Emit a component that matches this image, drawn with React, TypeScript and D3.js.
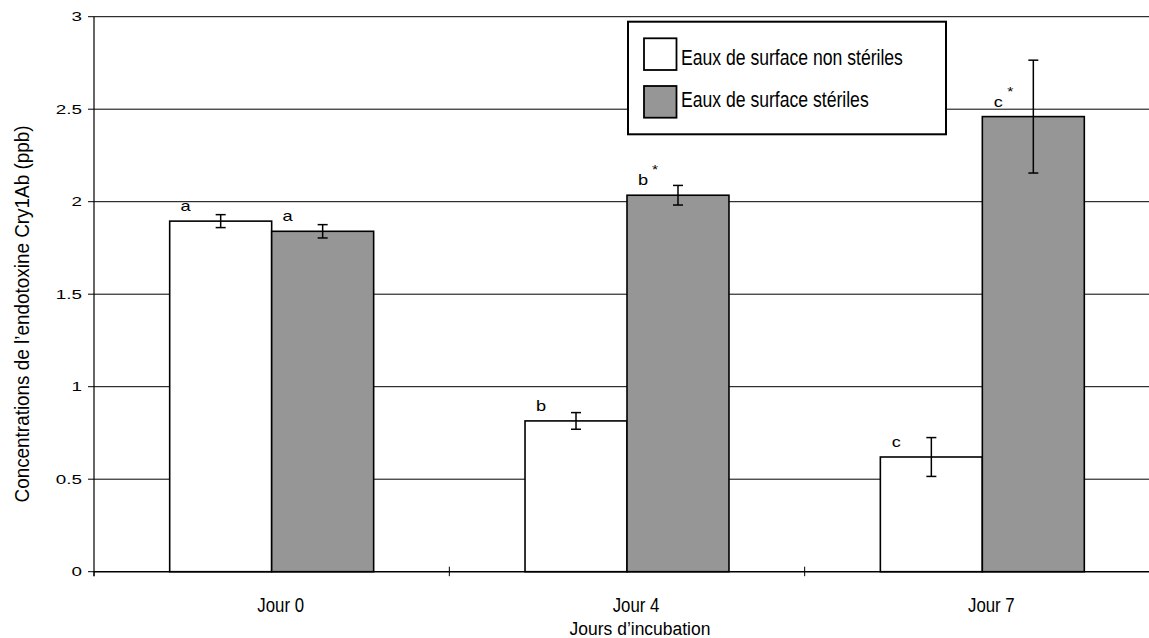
import React from "react";
import * as d3 from "d3";

// Cry1Ab endotoxin concentration in surface water, by incubation day
const categories = ["Jour 0", "Jour 4", "Jour 7"];
const seriesNames = ["Eaux de surface non stériles", "Eaux de surface stériles"];
const nonSterile = [1.895, 0.815, 0.62];
const nonSterileErr = [0.035, 0.045, 0.105];
const sterile = [1.84, 2.035, 2.46];
const sterileErr = [0.036, 0.053, 0.305];
const nonSterileLetters = ["a", "b", "c"];
const sterileLetters = ["a", "b", "c"];
const sterileStars = [false, true, true];
const yTicks = [0, 0.5, 1, 1.5, 2, 2.5, 3];
const yTickLabels = ["0", "0.5", "1", "1.5", "2", "2.5", "3"];
const xTitle = "Jours d’incubation";
const yTitle = "Concentrations de l’endotoxine Cry1Ab (ppb)";

const W = 1149;
const H = 638;
const FONT = "'Liberation Sans', Arial, Helvetica, sans-serif";
const GRAY = "#969696";

// text stretched horizontally by sx
function SText(props: {
  x: number;
  y: number;
  sx: number;
  size: number;
  anchor?: string;
  rotate?: number;
  children: React.ReactNode;
}) {
  const { x, y, sx, size, anchor = "start", rotate = 0, children } = props;
  return (
    <text
      transform={`translate(${x},${y}) rotate(${rotate}) scale(${sx},1)`}
      textAnchor={anchor}
      fontSize={size}
      fontFamily={FONT}
      fill="#000"
    >
      {children}
    </text>
  );
}

export default function App() {
  const left = 94;
  const right = 1160;
  const y = d3.scaleLinear().domain([0, 3]).range([571.7, 16.7]);
  const x = d3.scaleBand<string>().domain(categories).range([left, right]).padding(0);
  const groupW = x.bandwidth() * 0.574;
  const xs = d3.scaleBand<number>().domain([0, 1]).range([0, groupW]).padding(0);

  const series = [
    { values: nonSterile, errs: nonSterileErr, letters: nonSterileLetters, stars: [false, false, false], fill: "#fff" },
    { values: sterile, errs: sterileErr, letters: sterileLetters, stars: sterileStars, fill: GRAY },
  ];

  const barX = (ci: number, si: number) =>
    (x(categories[ci]) as number) + (x.bandwidth() - groupW) / 2 + (xs(si) as number);

  return (
    <svg
      width={W}
      height={H}
      style={{ position: "absolute", left: 0, top: 0, background: "#fff" }}
    >
      {/* gridlines */}
      {yTicks.slice(1).map((t) => (
        <line key={t} x1={left} x2={right} y1={y(t)} y2={y(t)} stroke="#000" strokeWidth={1} />
      ))}

      {/* bars */}
      {series.map((s, si) =>
        s.values.map((v, ci) => (
          <rect
            key={`${si}-${ci}`}
            x={barX(ci, si)}
            y={y(v)}
            width={xs.bandwidth()}
            height={y(0) - y(v)}
            fill={s.fill}
            stroke="#000"
            strokeWidth={1.6}
          />
        ))
      )}

      {/* error bars */}
      {series.map((s, si) =>
        s.values.map((v, ci) => {
          const cx = barX(ci, si) + xs.bandwidth() / 2;
          const y1 = y(v + s.errs[ci]);
          const y2 = y(v - s.errs[ci]);
          return (
            <g key={`e${si}-${ci}`} stroke="#000" strokeWidth={1.5}>
              <line x1={cx} x2={cx} y1={y1} y2={y2} />
              <line x1={cx - 5} x2={cx + 5} y1={y1} y2={y1} />
              <line x1={cx - 5} x2={cx + 5} y1={y2} y2={y2} />
            </g>
          );
        })
      )}

      {/* significance letters */}
      {series.map((s, si) =>
        s.values.map((v, ci) => {
          const cx = barX(ci, si) + xs.bandwidth() / 2 - 35;
          const by = y(v) - 10;
          return (
            <g key={`l${si}-${ci}`}>
              <SText x={cx} y={by} sx={1.3} size={14} anchor="middle">
                {s.letters[ci]}
              </SText>
              {s.stars[ci] && (
                <SText x={cx + 12} y={by - 11} sx={1.2} size={13} anchor="middle">
                  *
                </SText>
              )}
            </g>
          );
        })
      )}

      {/* axes */}
      <line x1={left} x2={left} y1={y(3)} y2={y(0) + 4.5} stroke="#000" strokeWidth={1.2} />
      <line x1={left} x2={right} y1={y(0)} y2={y(0)} stroke="#000" strokeWidth={1.4} />
      {yTicks.map((t, i) => (
        <g key={`t${t}`}>
          <line x1={left - 6} x2={left} y1={y(t)} y2={y(t)} stroke="#000" strokeWidth={1} />
          <SText x={82} y={y(t) + 4.6} sx={1.45} size={13} anchor="end">
            {yTickLabels[i]}
          </SText>
        </g>
      ))}
      {categories.map((c, i) => (
        <line
          key={`ct${c}`}
          x1={(x(c) as number) + (i === 0 ? 0 : 0)}
          x2={x(c) as number}
          y1={y(0) - (i === 0 ? 0 : 5)}
          y2={y(0) + 4.5}
          stroke="#000"
          strokeWidth={1}
        />
      ))}
      {categories.map((c) => (
        <SText
          key={`cl${c}`}
          x={(x(c) as number) + x.bandwidth() / 2 + 9}
          y={611.5}
          sx={0.8}
          size={21}
          anchor="middle"
        >
          {c}
        </SText>
      ))}

      {/* axis titles */}
      <SText x={(x("Jour 4") as number) + x.bandwidth() / 2 + 13} y={635} sx={0.92} size={19} anchor="middle">
        {xTitle}
      </SText>
      <SText x={28.5} y={314} sx={0.9} size={21} anchor="middle" rotate={-90}>
        {yTitle}
      </SText>

      {/* legend */}
      <rect x={628} y={21.7} width={318} height={112.6} fill="#fff" stroke="#000" strokeWidth={2} />
      {series.map((s, si) => (
        <g key={`lg${si}`}>
          <rect
            x={644}
            y={38.3 + si * 47.7}
            width={32.5}
            height={31.7}
            fill={s.fill}
            stroke="#000"
            strokeWidth={1.8}
          />
          <SText x={681} y={64.5 + si * 42.5} sx={0.8} size={22}>
            {seriesNames[si]}
          </SText>
        </g>
      ))}
    </svg>
  );
}
